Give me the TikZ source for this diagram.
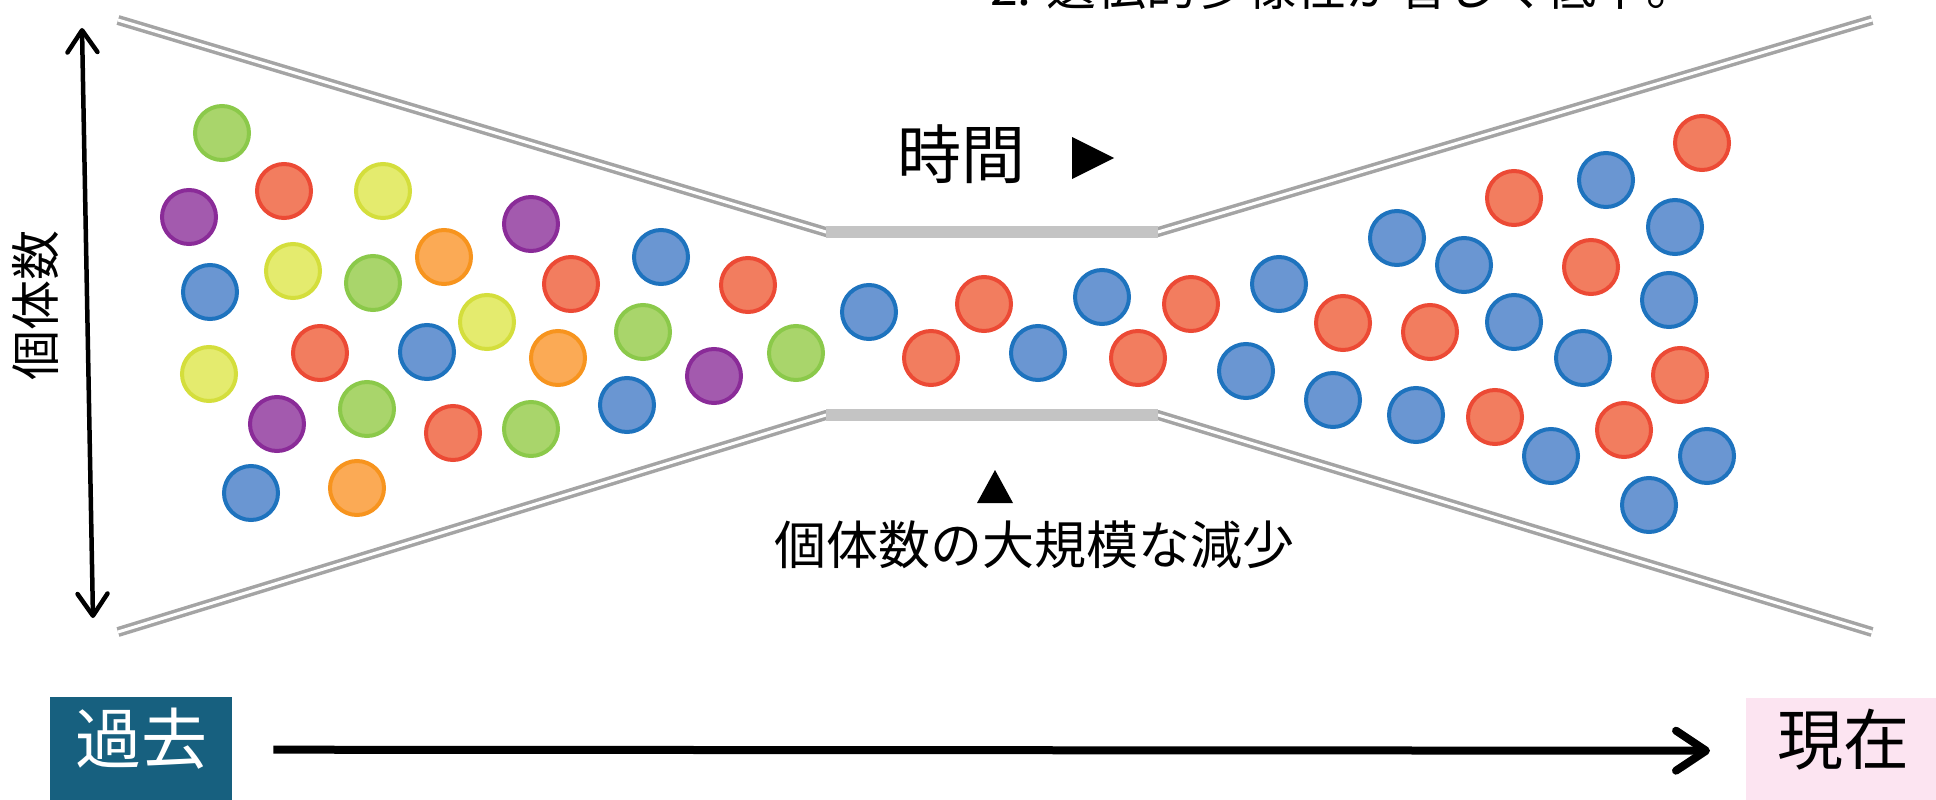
\documentclass[tikz,border=0pt]{standalone}
\usepackage{fontspec}
\setmainfont{Noto Sans CJK JP}
\usetikzlibrary{arrows.meta}
\definecolor{blF}{HTML}{6A96D2}\definecolor{blD}{HTML}{1E73BE}
\definecolor{rdF}{HTML}{F27D5F}\definecolor{rdD}{HTML}{EC4A35}
\definecolor{grF}{HTML}{A9D56B}\definecolor{grD}{HTML}{8BC94A}
\definecolor{ywF}{HTML}{E4EB6E}\definecolor{ywD}{HTML}{D4DE3C}
\definecolor{orF}{HTML}{FBAA55}\definecolor{orD}{HTML}{F7941E}
\definecolor{ppF}{HTML}{A35AAE}\definecolor{ppD}{HTML}{8A2B98}
\definecolor{wallc}{HTML}{A4A4A4}
\definecolor{barc}{HTML}{C4C4C4}
\definecolor{kakoc}{HTML}{17607F}
\definecolor{genc}{HTML}{FCE4F1}
\begin{document}
\begin{tikzpicture}[x=1pt,y=-1pt,
  dot/.style={circle,minimum size=54pt,inner sep=0pt,line width=4pt},
  B/.style={dot,draw=blD,fill=blF},
  R/.style={dot,draw=rdD,fill=rdF},
  G/.style={dot,draw=grD,fill=grF},
  Y/.style={dot,draw=ywD,fill=ywF},
  O/.style={dot,draw=orD,fill=orF},
  P/.style={dot,draw=ppD,fill=ppF},
  wall/.style={draw=wallc,line width=3.5pt,double=white,double distance=3pt},
  neck/.style={draw=barc,line width=12pt},
  lbl/.style={inner sep=0pt},
  timebox/.style={anchor=north west,inner sep=0pt,text height=66pt,text depth=39pt}
]
\useasboundingbox (0,0) rectangle (1936,800);
\fill[white] (0,0) rectangle (1936,800);

% funnel walls
\draw[wall] (118,20) -- (826,232) -- (1158,232) -- (1872,20);
\draw[wall] (118,632) -- (826,415) -- (1158,415) -- (1872,632);
\draw[neck] (826,232) -- (1158,232);
\draw[neck] (826,415) -- (1158,415);

% top (cut) text
\node[lbl,anchor=base west,font=\fontsize{50}{60}\selectfont] (title) at (990,6) {2. 遺伝的多様性が著しく低下。};

% individuals
\foreach \s/\px/\py [count=\i] in {
 G/222/133, R/284/191, Y/383/191, P/189/217, P/531/224, O/444/257, Y/293/271,
 G/373/283, B/210/292, R/571/284, B/661/257, R/748/285, Y/487/322, R/320/353,
 B/427/352, O/558/358, G/643/332, Y/209/374, G/367/409, P/277/424, R/453/433,
 G/531/429, B/627/405, P/714/376, G/796/353, B/251/493, O/357/488,
 B/869/312, R/984/304, R/931/358, B/1038/353, B/1102/297, R/1191/304,
 R/1138/358, B/1279/284, B/1246/371, R/1343/323,
 B/1333/400, B/1397/238, B/1464/265, R/1514/198, B/1606/180, R/1702/143,
 B/1675/227, R/1591/267, B/1669/300, R/1430/332, B/1514/322, B/1583/358,
 R/1680/375, B/1416/415, R/1495/417, B/1551/456, R/1624/430, B/1707/456,
 B/1649/505}
 \node[\s] (c\i) at (\px,\py) {};

% labels
\node[lbl,font=\fontsize{64}{70}\selectfont] (jikan) at (961,154) {時間};
\fill (1072,137) -- (1072,179) -- (1114,158) -- cycle;
\fill (977,503) -- (1013,503) -- (995,470) -- cycle;
\node[lbl,font=\fontsize{52}{60}\selectfont] (decl) at (1034,545) {個体数の大規模な減少};

% vertical axis
\coordinate (vtop) at (82,28);
\coordinate (vbot) at (93,618);
\draw[line width=4.5pt,{Straight Barb[round,length=22pt,width=30pt]}-{Straight Barb[round,length=22pt,width=30pt]}] (vbot) -- (vtop);
\node[lbl,rotate=90,font=\fontsize{50}{60}\selectfont] (kotai) at (36,305) {個体数};

% time axis
\node[timebox,fill=kakoc,text=white,minimum width=182pt,font=\fontsize{66}{70}\selectfont] (kako) at (50,697) {過去};
\node[timebox,fill=genc,text=black,minimum width=194pt,font=\fontsize{66}{70}\selectfont] (genzai) at (1746,698) {現在};
\draw[line width=8pt,-{Straight Barb[round,length=30pt,width=40pt]}] ([xshift=41pt]kako.east) -- ([xshift=-36pt]genzai.west);
\end{tikzpicture}
\end{document}
